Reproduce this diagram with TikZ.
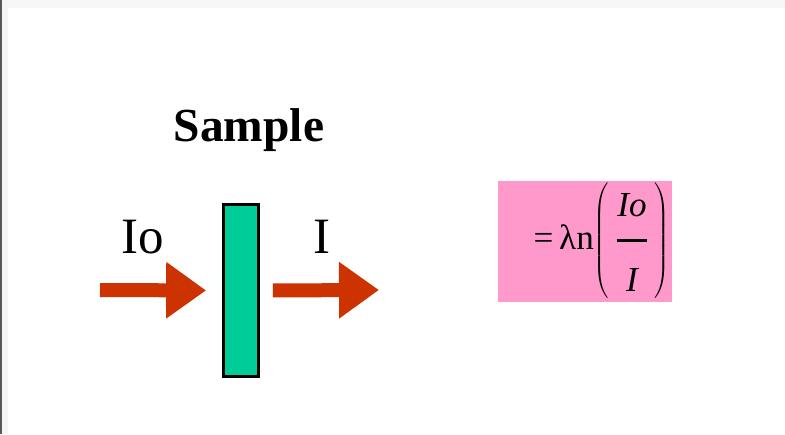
\documentclass[tikz,border=0pt]{standalone}
\usepackage{fontspec}
\setmainfont{Liberation Serif}
\usetikzlibrary{arrows.meta,positioning}
\definecolor{beamred}{HTML}{CC3300}
\definecolor{samplegreen}{HTML}{00CC99}
\definecolor{formulapink}{HTML}{FF99CC}

\begin{document}
\begin{tikzpicture}[
    x=0.02cm, y=-0.02cm,
    label/.style={font=\fontsize{29}{31}\selectfont, anchor=base, inner sep=0pt},
    cell/.style={draw, line width=0.055cm, fill=samplegreen, minimum width=0.7cm, minimum height=3.44cm, inner sep=0pt},
    formula/.style={fill=formulapink, minimum height=2.42cm, text width=3.48cm, align=right, inner xsep=0pt, inner ysep=0pt},
    beam/.style={-{Triangle[length=0.8cm, width=1.08cm]}, line width=0.28cm, draw=beamred}
]
\useasboundingbox (0,0) rectangle (785,434);
% window frame
\fill[gray!6] (0,0) rectangle (785,8);
\fill[gray!8] (2,0) rectangle (8,434);
\fill[gray!70!black] (0,0) rectangle (2,434);

\node[font=\bfseries\fontsize{27}{29}\selectfont] (title) at (249,130) {Sample};
\node[cell] (sample) at (241,290.5) {};
\coordinate (src) at (100,290);
\coordinate (dst) at (379,290);
\node[label] (io) at (143,253) {Io};
\node[label] (i) at (322,253) {I};
\node[formula] (law) at (585,241.5)
    {\fontsize{20}{22}\selectfont = λn$\displaystyle\left(\rule[-29pt]{0pt}{56pt}\,{\textit{Io}\rule[-9pt]{0pt}{0pt}\above1.4pt\rule{0pt}{24pt}\textit{I}}\,\right)$\kern1pt};

\draw[beam, shorten >=0.32cm] (src) -- (sample.west);
\draw[beam, shorten <=0.26cm] (sample.east) -- (dst);
\end{tikzpicture}
\end{document}
